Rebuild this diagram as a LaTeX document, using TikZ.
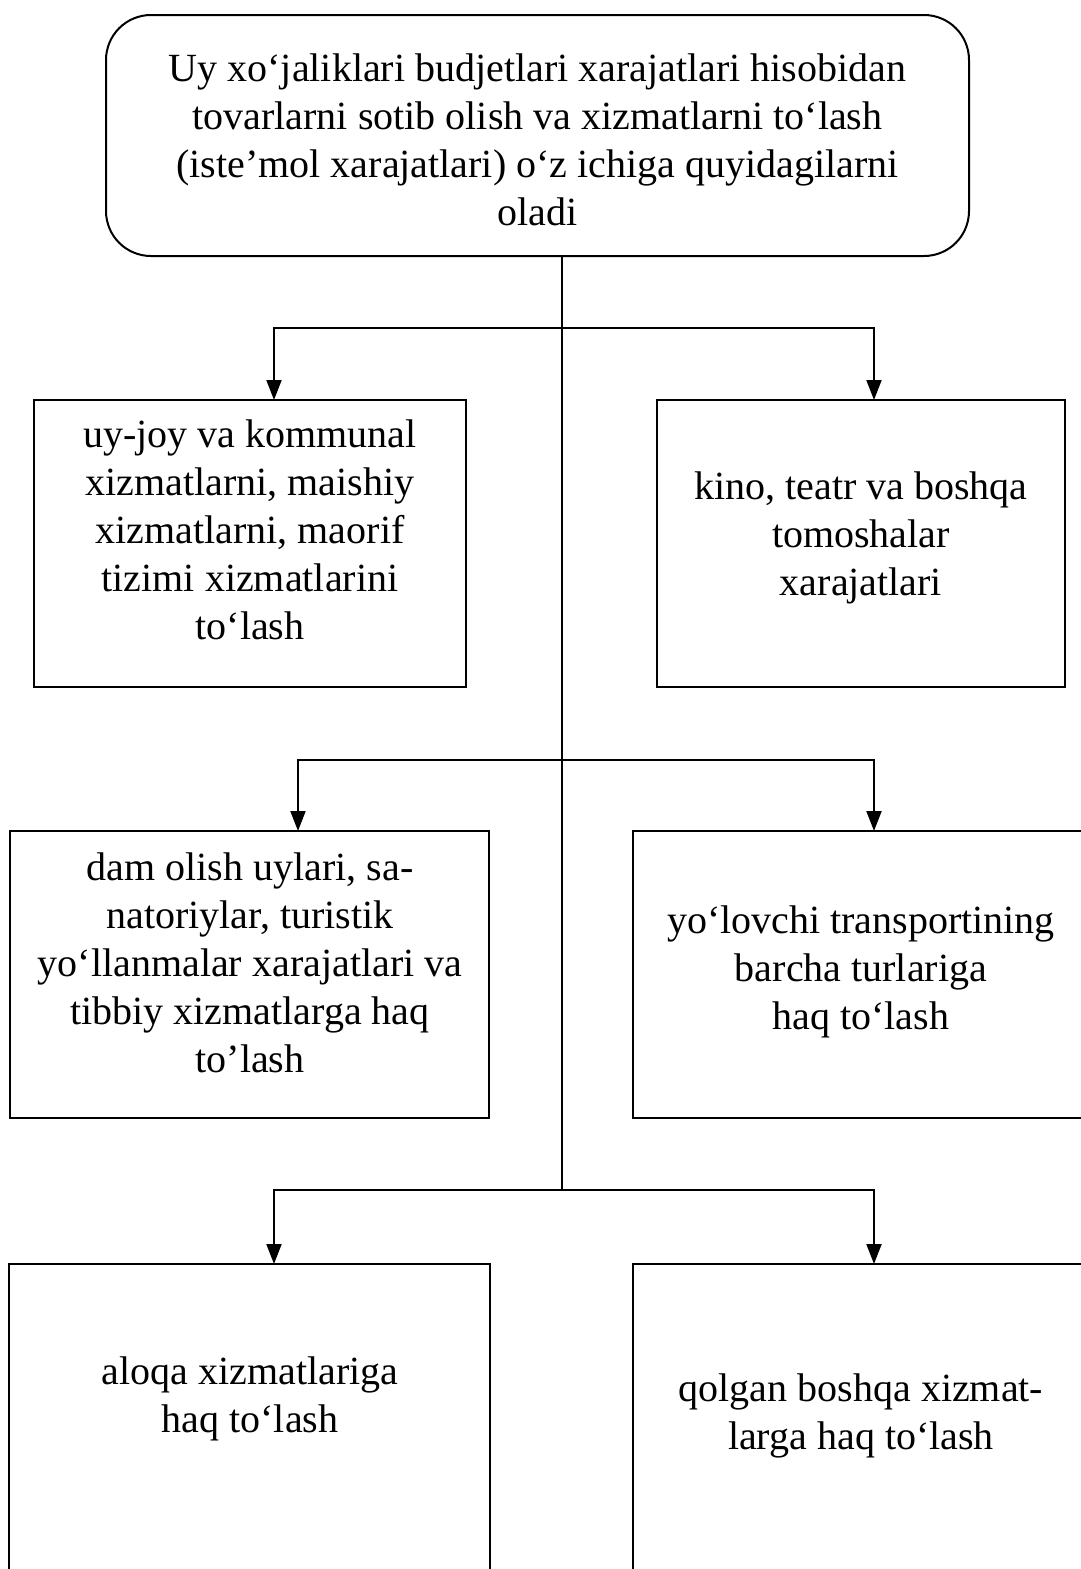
\documentclass[tikz,border=0pt]{standalone}
\usepackage{fontspec}
\setmainfont{Liberation Serif}
\usetikzlibrary{arrows.meta}
\begin{document}
\begin{tikzpicture}[x=1pt,y=-1pt,
  boxline/.style={draw, line width=2pt, rectangle, inner sep=0pt},
  txt/.style={align=center, inner sep=0pt, font=\fontsize{40}{48}\selectfont},
  conn/.style={line width=2pt},
  arr/.style={line width=2pt, -{Triangle[width=15pt,length=20pt]}}]
\useasboundingbox (0,0) rectangle (1080,1569);
% top
\node[boxline, rounded corners=45pt, minimum width=863pt, minimum height=241pt] (top) at (537.5,135.5) {};
\node[txt] (ttop) at (537.5,140) {Uy xo‘jaliklari budjetlari xarajatlari hisobidan\\tovarlarni sotib olish va xizmatlarni to‘lash\\(iste’mol xarajatlari) o‘z ichiga quyidagilarni\\oladi};
% row 1
\node[boxline, minimum width=432pt, minimum height=287pt] (l1) at (250,543.5) {};
\node[txt] (tl1) at (250,530) {uy-joy va kommunal\\xizmatlarni, maishiy\\xizmatlarni, maorif\\tizimi xizmatlarini\\to‘lash};
\node[boxline, minimum width=408pt, minimum height=287pt] (r1) at (861,543.5) {};
\node[txt] (tr1) at (861,538) {kino, teatr va boshqa\\tomoshalar\\xarajatlari};
% row 2
\node[boxline, minimum width=479pt, minimum height=287pt] (l2) at (249.5,974.5) {};
\node[txt] (tl2) at (250,963) {dam olish uylari, sa-\\natoriylar, turistik\\yo‘llanmalar xarajatlari va\\tibbiy xizmatlarga haq\\to’lash};
\node[boxline, minimum width=456pt, minimum height=287pt] (r2) at (861,974.5) {};
\node[txt] (tr2) at (861,972) {yo‘lovchi transportining\\barcha turlariga\\haq to‘lash};
% row 3
\node[boxline, minimum width=481pt, minimum height=400pt] (l3) at (249.5,1464) {};
\node[txt] (tl3) at (250,1399) {aloqa xizmatlariga\\haq to‘lash};
\node[boxline, minimum width=456pt, minimum height=400pt] (r3) at (861,1464) {};
\node[txt] (tr3) at (861,1416) {qolgan boshqa xizmat-\\larga haq to‘lash};
% junctions
\coordinate (j1) at (562,328);
\coordinate (j2) at (562,760);
\coordinate (j3) at (562,1190);
\coordinate (a1) at (274,400);
\coordinate (b1) at (874,400);
\coordinate (a2) at (298,831);
\coordinate (b2) at (874,831);
\coordinate (a3) at (274,1264);
\coordinate (b3) at (874,1264);
\draw[conn] (top.south -| j1) -- (j3);
\draw[arr] (j1) -| (a1);
\draw[arr] (j1) -| (b1);
\draw[arr] (j2) -| (a2);
\draw[arr] (j2) -| (b2);
\draw[arr] (j3) -| (a3);
\draw[arr] (j3) -| (b3);
\end{tikzpicture}
\end{document}
